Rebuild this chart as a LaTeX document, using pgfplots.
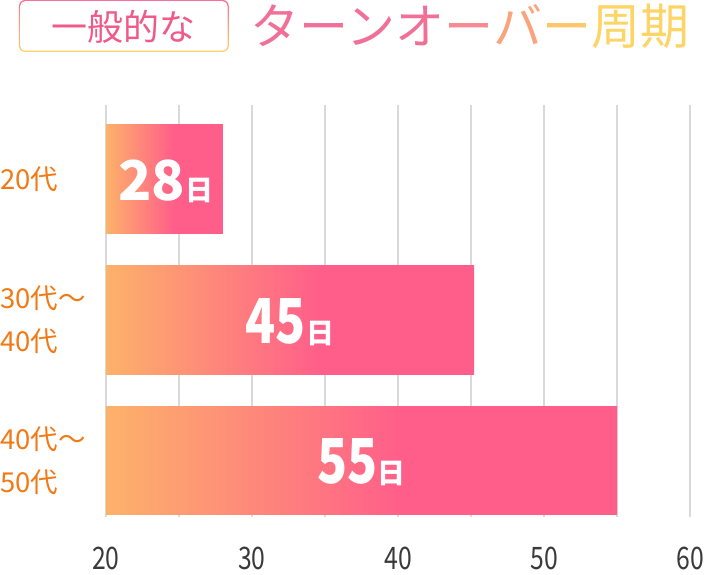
\documentclass[border=0pt]{standalone}
\usepackage{pgfplots}
\pgfplotsset{compat=1.18}
\usepackage{fontspec}
\setmainfont{Noto Sans CJK JP}
\newfontfamily\numfont[FakeStretch=0.8]{Noto Sans CJK JP}
\newfontfamily\numbold[FakeStretch=0.8]{Noto Sans CJK JP}

\definecolor{barorange}{HTML}{FDB26A}
\definecolor{barpink}{HTML}{FF5E8A}
\definecolor{gridgray}{HTML}{D9D9D9}
\definecolor{ticktext}{HTML}{3A3A3A}
\definecolor{agecol}{HTML}{F27A16}
\definecolor{tpink}{HTML}{F05A8A}
\definecolor{t1}{HTML}{F07098}
\definecolor{t2}{HTML}{F58A92}
\definecolor{t3}{HTML}{F9A47C}
\definecolor{t4}{HTML}{FCC66A}
\definecolor{t5}{HTML}{FDD466}
\definecolor{boxtop}{HTML}{F7709A}
\definecolor{boxbot}{HTML}{FDD36C}

% the bar itself spans 25bp..75bp of the shading
\pgfdeclarehorizontalshading{barshade}{100bp}{color(0bp)=(barorange); color(25bp)=(barorange); color(54bp)=(barpink); color(100bp)=(barpink)}

\pgfplotsset{
    gbar/.style={xbar, bar shift=0pt, bar width=109pt, draw=none, shade, shading=barshade},
    vlabel/.style={only marks, mark=none, point meta=explicit symbolic,
        every node near coord/.append style={anchor=center, text=white, inner sep=0pt, yshift=-2pt}},
}
\newcommand{\hi}{\bfseries\fontsize{28}{28}\selectfont 日}

\begin{document}
\begin{tikzpicture}
\begin{axis}[
    at={(0pt,0pt)}, anchor=south west,
    scale only axis,
    width=585pt, height=413pt,
    xmin=20, xmax=60,
    ymin=0.471, ymax=3.405,
    y dir=reverse,
    axis line style={draw=none},
    major tick length=0pt, minor tick length=0pt,
    xtick={20,30,40,50,60},
    minor xtick={25,35,45,55},
    xmajorgrids=true, xminorgrids=true,
    grid style={gridgray, line width=1.6pt},
    minor grid style={gridgray, line width=1.6pt},
    ytick={1,2,3},
    yticklabels={20代, 30代～\\40代, 40代～\\50代},
    yticklabel style={anchor=west, xshift=-106pt, inner sep=0pt, align=left,
        text=agecol, font=\fontsize{27.5}{43}\selectfont},
    /pgf/number format/assume math mode=true,
    xticklabel style={anchor=base, yshift=-52pt, inner sep=0pt,
        text=ticktext, font=\numfont\fontsize{31}{31}\selectfont},
    clip=false,
]
\addplot[gbar] coordinates {(28,1)};
\addplot[gbar] coordinates {(45.2,2)};
\addplot[gbar] coordinates {(55,3)};
% value labels at the middle of each bar
\addplot[vlabel, nodes near coords={{\bfseries\fontsize{55}{55}\selectfont\pgfplotspointmeta}{\hi}}]
    coordinates {(24.1,1) [28]};
\addplot[vlabel, nodes near coords={{\numbold\bfseries\fontsize{62}{62}\selectfont\pgfplotspointmeta}{\hi}}]
    coordinates {(32.6,2) [45] (37.5,3) [55]};
\end{axis}
% title
\shade[top color=boxtop, bottom color=boxbot, rounded corners=6pt] (-87pt,466pt) rectangle (123pt,518pt);
\fill[white, rounded corners=5pt] (-85.8pt,467.2pt) rectangle (121.8pt,516.8pt);
\node[text=tpink, font=\fontsize{36}{36}\selectfont] at (18pt,491pt) {一般的な};
\node[anchor=west, inner sep=0pt, font=\fontsize{49}{49}\selectfont] at (145pt,492pt)
    {\textcolor{t1}{ターンオ}\textcolor{t2}{ー}\textcolor{t3}{バ}\textcolor{t4}{ー}\textcolor{t5}{周期}};
\useasboundingbox (-106pt,-57pt) rectangle (598pt,518pt);
\end{tikzpicture}
\end{document}
